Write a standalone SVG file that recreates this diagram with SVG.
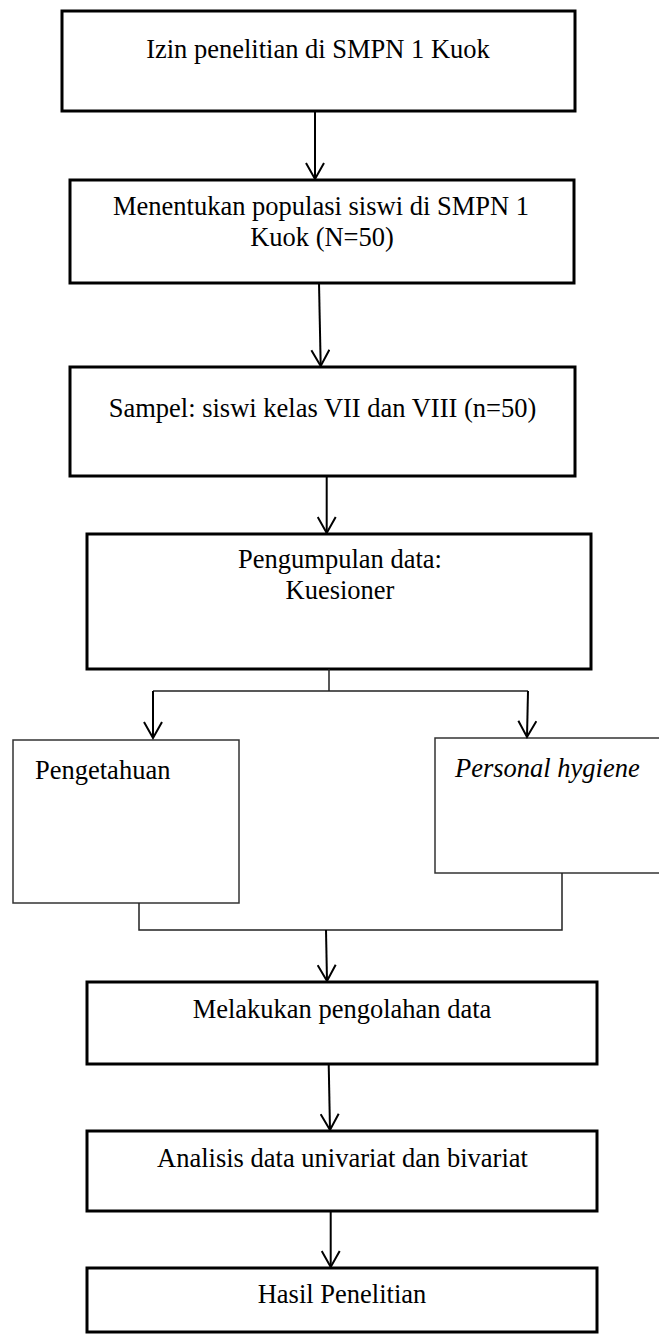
<svg xmlns="http://www.w3.org/2000/svg" width="659" height="1337" viewBox="0 0 659 1337">
<style>
.box{fill:#fff;stroke:#000;stroke-width:3}
.thin{fill:#fff;stroke:#333;stroke-width:1.5}
.t{font-family:"Liberation Serif","Times New Roman",serif;font-size:26.5px;fill:#000}
.c{text-anchor:middle}
.con{fill:none;stroke:#000;stroke-width:2}
.conthin{fill:none;stroke:#222;stroke-width:1.5}
</style>
<defs>
<marker id="arr" markerWidth="26" markerHeight="20" refX="17" refY="10" orient="auto" markerUnits="userSpaceOnUse">
<path d="M1,1 L17,10 L1,19" fill="none" stroke="#000" stroke-width="2"/>
</marker>
</defs>
<g id="n1"><rect class="box" x="62" y="11" width="513" height="100"/><text class="t c" x="318" y="58">Izin penelitian di SMPN 1 Kuok</text></g>
<g id="n2"><rect class="box" x="70" y="180" width="504" height="103"/><text class="t c" x="321" y="215">Menentukan populasi siswi di SMPN 1</text><text class="t c" x="322" y="246">Kuok (N=50)</text></g>
<g id="n3"><rect class="box" x="70" y="367" width="505" height="109"/><text class="t c" x="322.5" y="417">Sampel: siswi kelas VII dan VIII (n=50)</text></g>
<g id="n4"><rect class="box" x="87" y="534" width="504" height="135"/><text class="t c" x="340" y="568">Pengumpulan data:</text><text class="t c" x="340" y="599">Kuesioner</text></g>
<g id="n5"><rect class="thin" x="13" y="740" width="226" height="163"/><text class="t" x="35" y="779">Pengetahuan</text></g>
<g id="n6"><rect class="thin" x="435" y="738" width="230" height="135"/><text class="t" x="455" y="777" font-style="italic">Personal hygiene</text></g>
<g id="n7"><rect class="box" x="87" y="982" width="510" height="82"/><text class="t c" x="342" y="1018">Melakukan pengolahan data</text></g>
<g id="n8"><rect class="box" x="87" y="1131" width="510" height="80"/><text class="t c" x="342.5" y="1167">Analisis data univariat dan bivariat</text></g>
<g id="n9"><rect class="box" x="87" y="1268" width="510" height="64"/><text class="t c" x="342" y="1303">Hasil Penelitian</text></g>
<g id="connectors">
<path class="con" d="M315,111 L315,179" marker-end="url(#arr)"/>
<path class="con" d="M319,283 L320.7,366" marker-end="url(#arr)"/>
<path class="con" d="M326.7,476 L326.7,533" marker-end="url(#arr)"/>
<path class="conthin" d="M329,669 L329,691 M153,691 L528,691"/>
<path class="con" d="M153,691 L153,738" marker-end="url(#arr)"/>
<path class="con" d="M528,691 L527,737" marker-end="url(#arr)"/>
<path class="conthin" d="M139,903 L139,930 L562,930 L562,873"/>
<path class="con" d="M326,930 L327,981" marker-end="url(#arr)"/>
<path class="con" d="M328.7,1064 L330,1130" marker-end="url(#arr)"/>
<path class="con" d="M330.7,1211 L330.7,1267" marker-end="url(#arr)"/>
</g>
</svg>
